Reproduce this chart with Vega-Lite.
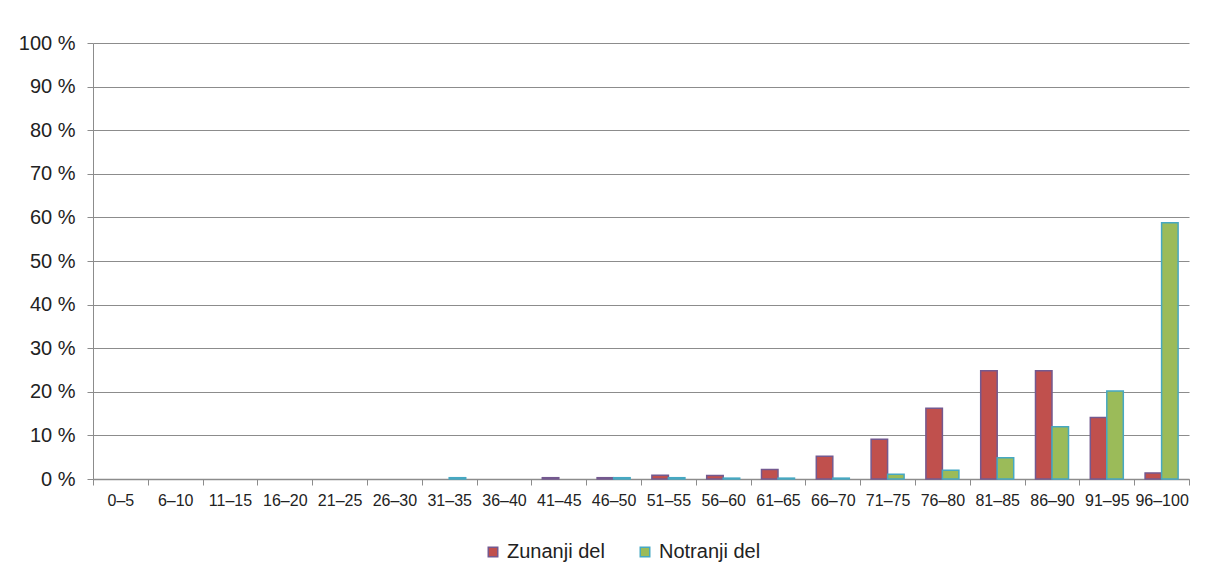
{
  "$schema": "https://vega.github.io/schema/vega-lite/v6.json",
  "autosize": "none",
  "width": 1096,
  "height": 436,
  "padding": {"left": 93, "top": 43, "right": 21, "bottom": 104},
  "background": "white",
  "config": {
    "view": {"stroke": null},
    "font": "Liberation Sans"
  },
  "data": {
    "values": [
      {"razred": "31–35", "del": "Notranji del", "delez": 0.3},
      {"razred": "41–45", "del": "Zunanji del", "delez": 0.3},
      {"razred": "46–50", "del": "Zunanji del", "delez": 0.3},
      {"razred": "46–50", "del": "Notranji del", "delez": 0.3},
      {"razred": "51–55", "del": "Zunanji del", "delez": 0.85},
      {"razred": "51–55", "del": "Notranji del", "delez": 0.3},
      {"razred": "56–60", "del": "Zunanji del", "delez": 0.8},
      {"razred": "56–60", "del": "Notranji del", "delez": 0.2},
      {"razred": "61–65", "del": "Zunanji del", "delez": 2.2},
      {"razred": "61–65", "del": "Notranji del", "delez": 0.2},
      {"razred": "66–70", "del": "Zunanji del", "delez": 5.2},
      {"razred": "66–70", "del": "Notranji del", "delez": 0.2},
      {"razred": "71–75", "del": "Zunanji del", "delez": 9.1},
      {"razred": "71–75", "del": "Notranji del", "delez": 1.1},
      {"razred": "76–80", "del": "Zunanji del", "delez": 16.2},
      {"razred": "76–80", "del": "Notranji del", "delez": 2.0},
      {"razred": "81–85", "del": "Zunanji del", "delez": 24.8},
      {"razred": "81–85", "del": "Notranji del", "delez": 4.9},
      {"razred": "86–90", "del": "Zunanji del", "delez": 24.8},
      {"razred": "86–90", "del": "Notranji del", "delez": 12.0},
      {"razred": "91–95", "del": "Zunanji del", "delez": 14.1},
      {"razred": "91–95", "del": "Notranji del", "delez": 20.2},
      {"razred": "96–100", "del": "Zunanji del", "delez": 1.4},
      {"razred": "96–100", "del": "Notranji del", "delez": 58.8}
    ]
  },
  "mark": {"type": "bar", "strokeWidth": 1.5},
  "encoding": {
    "x": {
      "field": "razred",
      "type": "nominal",
      "title": null,
      "scale": {
        "domain": ["0–5", "6–10", "11–15", "16–20", "21–25", "26–30", "31–35", "36–40", "41–45", "46–50", "51–55", "56–60", "61–65", "66–70", "71–75", "76–80", "81–85", "86–90", "91–95", "96–100"],
        "paddingInner": 0,
        "paddingOuter": 0
      },
      "axis": {
        "labelAngle": 0,
        "labelFontSize": 16,
        "labelColor": "#222222",
        "labelPadding": 7,
        "labelOverlap": false,
        "labelLimit": 0,
        "tickBand": "extent",
        "tickSize": 6,
        "tickColor": "#8c8c8c",
        "domainColor": "#8c8c8c",
        "domainWidth": 1.5,
        "grid": false
      }
    },
    "xOffset": {
      "field": "del",
      "type": "nominal",
      "scale": {"domain": ["Zunanji del", "Notranji del"], "paddingInner": 0, "paddingOuter": 0.66}
    },
    "y": {
      "field": "delez",
      "type": "quantitative",
      "title": null,
      "scale": {"domain": [0, 100], "nice": false},
      "axis": {
        "values": [0, 10, 20, 30, 40, 50, 60, 70, 80, 90, 100],
        "labelExpr": "datum.value + ' %'",
        "labelFontSize": 20,
        "labelColor": "#222222",
        "labelPadding": 12,
        "tickSize": 6,
        "tickColor": "#8c8c8c",
        "domainColor": "#8c8c8c",
        "gridColor": "#8c8c8c",
        "gridWidth": 1.2
      }
    },
    "color": {
      "field": "del",
      "type": "nominal",
      "scale": {"domain": ["Zunanji del", "Notranji del"], "range": ["#C0504D", "#9BBB59"]},
      "legend": {
        "title": null,
        "orient": "none",
        "direction": "horizontal",
        "legendX": 390,
        "legendY": 499,
        "symbolType": "square",
        "symbolSize": 90,
        "symbolStrokeWidth": 1.5,
        "labelFontSize": 20,
        "labelColor": "#222222",
        "labelOffset": 4,
        "columnPadding": 30
      }
    },
    "stroke": {
      "field": "del",
      "type": "nominal",
      "scale": {"domain": ["Zunanji del", "Notranji del"], "range": ["#74598F", "#46A8C2"]},
      "legend": {
        "title": null,
        "orient": "none",
        "direction": "horizontal",
        "legendX": 390,
        "legendY": 499,
        "symbolType": "square",
        "symbolSize": 90,
        "symbolStrokeWidth": 1.5,
        "labelFontSize": 20,
        "labelColor": "#222222",
        "labelOffset": 4,
        "columnPadding": 30
      }
    }
  }
}
